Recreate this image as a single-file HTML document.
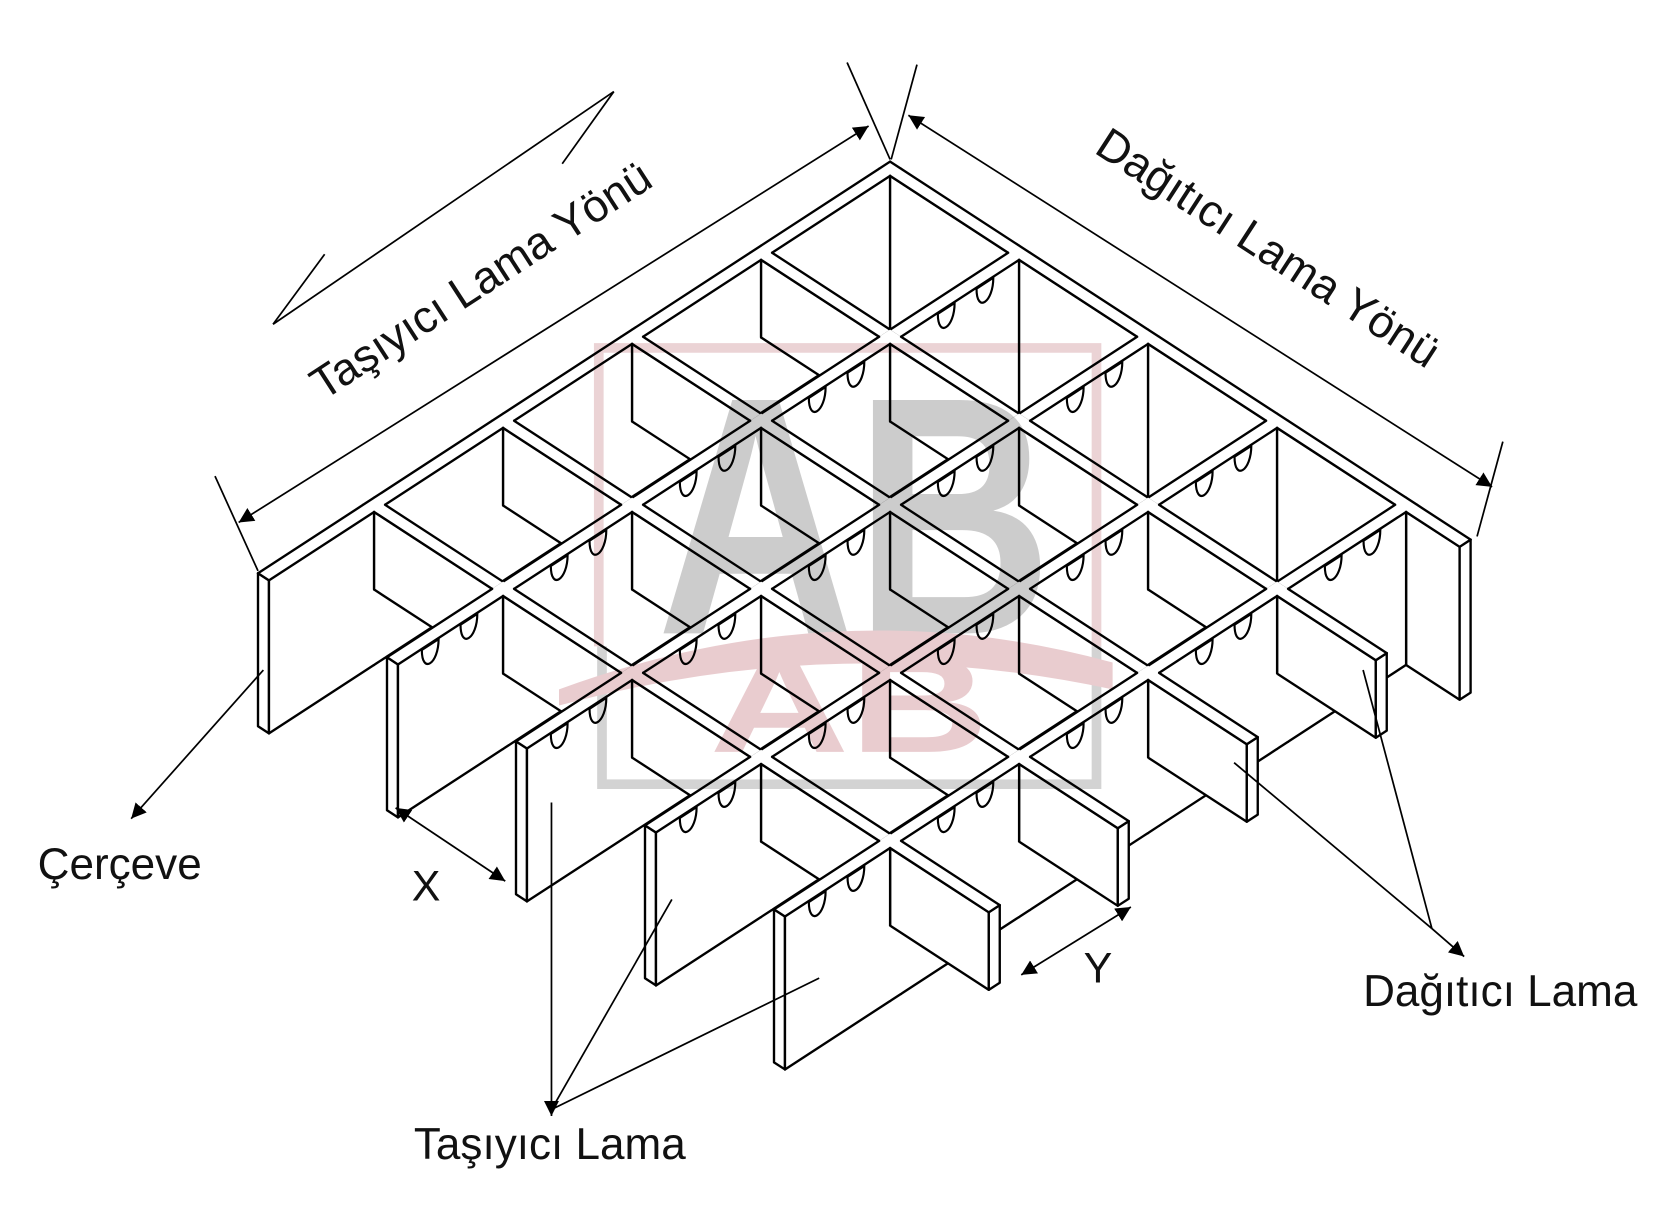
<!DOCTYPE html>
<html><head><meta charset="utf-8"><style>
html,body{margin:0;padding:0;background:#fff;}
svg{display:block;}
text{font-family:"Liberation Sans","DejaVu Sans",sans-serif;fill:#111;}
</style></head><body>
<svg id="s" width="1677" height="1228" viewBox="0 0 1560 1140" preserveAspectRatio="none" xmlns="http://www.w3.org/2000/svg">
<defs>
<marker id="ar" viewBox="0 0 10 10" refX="10" refY="5" markerWidth="14" markerHeight="14" markerUnits="userSpaceOnUse" orient="auto-start-reverse"><path d="M0,0 L10,5 L0,10 z" fill="#000"/></marker>
</defs>
<rect width="1560" height="1140" fill="#fff"/>
<g id="grid"></g>
<!-- watermark -->
<g style="mix-blend-mode:multiply" opacity="0.5">
<path d="M557,600 L557,323 L1020,323 L1020,600" fill="none" stroke="#d8a8ac" stroke-width="9"/>
<path d="M560,600 L560,728 L1020,728 L1020,600" fill="none" stroke="#a8a8a8" stroke-width="9"/>
<text x="795" y="588" text-anchor="middle" font-size="300" font-weight="bold" style="fill:#9a9a9a" transform="translate(795,588) scale(0.85,1.05) translate(-795,-588)">AB</text>
<path d="M520,640 Q780,545 1035,615 L1035,640 Q780,585 520,655 z" fill="#d49aa0"/>
<text x="790" y="698" text-anchor="middle" font-size="150" font-weight="bold" style="fill:#d49aa0" transform="translate(790,698) scale(1.2,0.85) translate(-790,-698)">AB</text>
</g>
<!-- dimension / leader lines -->
<g stroke="#000" stroke-width="1.6" fill="none">
<line x1="200" y1="442" x2="240" y2="530"/>
<line x1="788" y1="58" x2="828" y2="148"/>
<line x1="853" y1="60" x2="829" y2="148"/>
<line x1="1398" y1="410" x2="1374" y2="498"/>
<line x1="222" y1="485" x2="808" y2="117" marker-start="url(#ar)" marker-end="url(#ar)"/>
<line x1="845" y1="107" x2="1388" y2="452" marker-start="url(#ar)" marker-end="url(#ar)"/>
<line x1="254" y1="301" x2="571" y2="85"/>
<line x1="571" y1="85" x2="523" y2="152"/>
<line x1="254" y1="301" x2="302" y2="236"/>
<line x1="245" y1="622" x2="122" y2="760" marker-end="url(#ar)"/>
<line x1="368" y1="750" x2="470" y2="818" marker-start="url(#ar)" marker-end="url(#ar)"/>
<line x1="950" y1="905" x2="1052" y2="842" marker-start="url(#ar)" marker-end="url(#ar)"/>
<line x1="513" y1="745" x2="513" y2="1036" marker-end="url(#ar)"/>
<line x1="625" y1="835" x2="513" y2="1030"/>
<line x1="762" y1="908" x2="513" y2="1030"/>
<line x1="1268" y1="622" x2="1332" y2="862"/>
<line x1="1148" y1="708" x2="1332" y2="862"/>
<line x1="1332" y1="862" x2="1362" y2="888" marker-end="url(#ar)"/>
</g>
<!-- labels -->
<text x="455" y="272" font-size="42" text-anchor="middle" transform="rotate(-33 455 272)">Taşıyıcı Lama Yönü</text>
<text x="1172" y="242" font-size="42" text-anchor="middle" transform="rotate(33 1172 242)">Dağıtıcı Lama Yönü</text>
<text x="35" y="816" font-size="41">Çerçeve</text>
<text x="383" y="836" font-size="40">X</text>
<text x="1008" y="912" font-size="40">Y</text>
<text x="1268" y="934" font-size="41">Dağıtıcı Lama</text>
<text x="385" y="1076" font-size="41">Taşıyıcı Lama</text>
<script>
(function(){
var NS="http://www.w3.org/2000/svg";
var g=document.getElementById("grid");
var HB=142,HD=72,t=0.085;
function P(u,v,h){return [828-120*u+120*v,150+78*u+78*v+(h||0)];}
function pts(a){return a.map(function(p){return p[0].toFixed(1)+","+p[1].toFixed(1);}).join(" ");}
function poly(a,fill,stroke){var e=document.createElementNS(NS,"polygon");e.setAttribute("points",pts(a));e.setAttribute("fill",fill);e.setAttribute("stroke",stroke?"#000":"none");e.setAttribute("stroke-width","2.2");e.setAttribute("stroke-linejoin","round");g.appendChild(e);}
function line(a,b){var e=document.createElementNS(NS,"line");e.setAttribute("x1",a[0]);e.setAttribute("y1",a[1]);e.setAttribute("x2",b[0]);e.setAttribute("y2",b[1]);e.setAttribute("stroke","#000");e.setAttribute("stroke-width","2.2");e.setAttribute("stroke-linecap","round");g.appendChild(e);}
function path(d){var e=document.createElementNS(NS,"path");e.setAttribute("d",d);e.setAttribute("fill","#fff");e.setAttribute("stroke","#000");e.setAttribute("stroke-width","2");g.appendChild(e);}
var boxes=[];
var UE=4.9;
for(var j=0;j<=4;j++){
 for(var k=0;k<=4;k++){
  boxes.push({u0:k,u1:k+t,v0:j,v1:j+t,type:"c",H:HB,k:k,j:j});
  boxes.push({u0:k+t,u1:(k<4?k+1:UE),v0:j,v1:j+t,type:"u",end:k==4,j:j,k:k,H:HB});
 }
}
for(var k=0;k<=4;k++){
 var VE=(k==0?4.5:4.85);
 for(var j=0;j<=4;j++){
  boxes.push({u0:k,u1:k+t,v0:j+t,v1:(j<4?j+1:VE),type:"v",end:j==4,H:(k==0?HB:HD)});
 }
}
boxes.forEach(function(b){b.key=(b.u0+b.u1)/2+(b.v0+b.v1)/2;});
boxes.sort(function(a,b){return a.key-b.key;});
boxes.forEach(function(b){
 var u0=b.u0,u1=b.u1,v0=b.v0,v1=b.v1,H=b.H;
 if(b.type=="c"){
  poly([P(u0,v1,0),P(u1,v1,0),P(u1,v1,H),P(u0,v1,H)],"#fff",false);
  line(P(u0,v1,H),P(u1,v1,H));
  poly([P(u0,v0),P(u1,v0),P(u1,v1),P(u0,v1)],"#fff",false);
  if(b.j==0)line(P(u0,v0),P(u1,v0));
  if(b.k==0)line(P(u0,v0),P(u0,v1));
  return;
 }
 if(b.type=="u"){
  if(b.end) poly([P(u1,v0,0),P(u1,v1,0),P(u1,v1,H),P(u1,v0,H)],"#fff",true);
  poly([P(u0,v1,0),P(u1,v1,0),P(u1,v1,H),P(u0,v1,H)],"#fff",false);
  line(P(u0,v1,H),P(u1,v1,H));
  if(b.end) line(P(u1,v1,0),P(u1,v1,H));
  var dv=(b.k==0?HB:HD);
  line(P(u0,v1,0),P(u0,v1,dv));
  poly([P(u0,v0),P(u1,v0),P(u1,v1),P(u0,v1)],"#fff",false);
  line(P(u0,v0),P(u1,v0));line(P(u0,v1),P(u1,v1));if(b.end)line(P(u1,v0),P(u1,v1));
  if(b.j>=1){
   [0.2,0.5].forEach(function(f){
    var ua=u0+f, ub=ua+0.13;
    var A=P(ua,v1,1),B=P(ub,v1,1),C1=P(ua,v1,24),C2=P(ub,v1,24);
    path("M"+A[0]+","+A[1]+" C"+C1[0]+","+C1[1]+" "+C2[0]+","+C2[1]+" "+B[0]+","+B[1]+" z");
   });
  }
  return;
 }
 // v segment
 poly([P(u1,v0,0),P(u1,v1,0),P(u1,v1,H),P(u1,v0,H)],"#fff",true);
 if(b.end) poly([P(u0,v1,0),P(u1,v1,0),P(u1,v1,H),P(u0,v1,H)],"#fff",true);
 poly([P(u0,v0),P(u1,v0),P(u1,v1),P(u0,v1)],"#fff",false);
 line(P(u0,v0),P(u0,v1));line(P(u1,v0),P(u1,v1));if(b.end)line(P(u0,v1),P(u1,v1));
});
})();
</script>
</svg>
</body></html>
